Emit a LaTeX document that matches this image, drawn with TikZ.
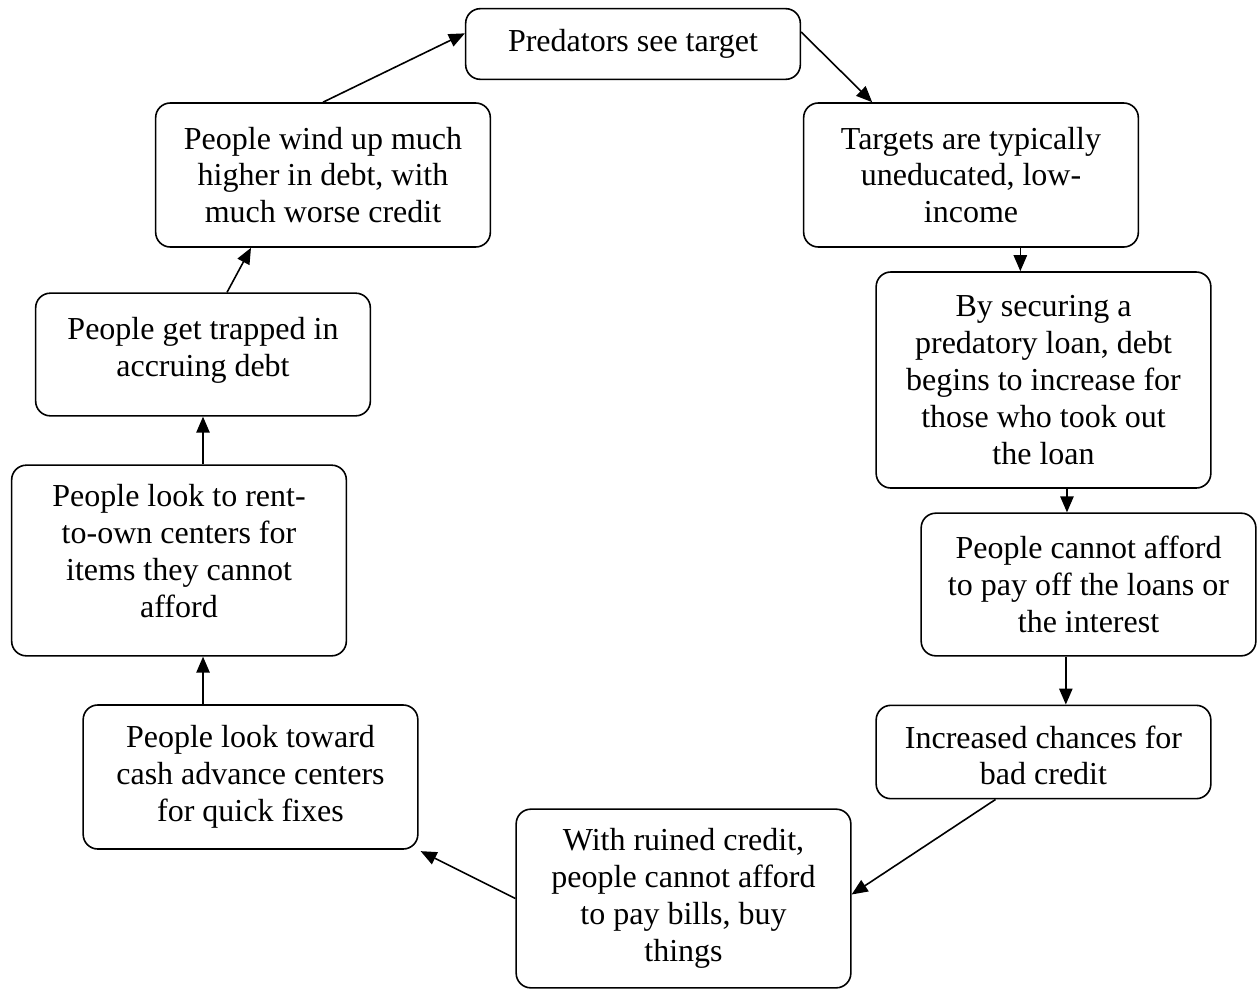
\documentclass[tikz,border=0pt]{standalone}
\usepackage{fontspec}
\setmainfont{Liberation Serif}
\usetikzlibrary{arrows.meta}

\begin{document}
\begin{tikzpicture}[x=0.75pt, y=-0.75pt,
  box/.style={draw, rounded corners=11pt, line width=1.2pt, minimum width=251pt,
    inner sep=0pt, align=center, font=\fontsize{24}{27.7}\selectfont},
  arr/.style={-{Triangle[length=12pt, width=10pt]}, line width=1.2pt}
]
\useasboundingbox (0,0) rectangle (1257,989);
\node[box, minimum height=53pt] (see) at (633,44) {Predators see target};
\node[box, minimum height=108pt] (targets) at (971,175) {Targets are typically\\uneducated, low-\\income};
\node[box, minimum height=162pt] (loan) at (1043.5,380) {By securing a\\predatory loan, debt\\begins to increase for\\those who took out\\the loan};
\node[box, minimum height=107pt] (afford) at (1088.5,584.5) {People cannot afford\\to pay off the loans or\\the interest};
\node[box, minimum height=70pt] (credit) at (1043.5,752) {\rule{0pt}{22pt}Increased chances for\\bad credit};
\node[box, minimum height=134pt] (ruined) at (683.5,898.5) {With ruined credit,\\people cannot afford\\to pay bills, buy\\things};
\node[box, minimum height=108pt] (cash) at (250.5,777) {People look toward\\cash advance centers\\for quick fixes};
\node[box, minimum height=143pt] (rent) at (179,560.5) {People look to rent-\\to-own centers for\\items they cannot\\afford\rule[-14pt]{0pt}{14pt}};
\node[box, minimum height=92pt] (trapped) at (203,354.5) {People get trapped in\\accruing debt\rule[-12pt]{0pt}{12pt}};
\node[box, minimum height=108pt] (windup) at (323,175) {People wind up much\\higher in debt, with\\much worse credit};
% cycle
\draw[arr] (windup.north) -- ([yshift=8pt]see.west);
\draw[arr] ([yshift=9pt]see.east) -- ([xshift=52pt]targets.north west);
\draw[arr] ([xshift=37pt]targets.south) -- ([xshift=37pt]targets.south |- loan.north);
\draw[arr] ([xshift=17.6pt]loan.south) -- ([xshift=17.6pt]loan.south |- afford.north);
\draw[arr] ([xshift=-17pt]afford.south) -- ([xshift=-17pt]afford.south |- credit.north);
\draw[arr] ([xshift=-36pt]credit.south) -- ([yshift=3pt]ruined.east);
\draw[arr] (ruined.west) -- ([xshift=1.5pt,yshift=-1pt]cash.south east);
\draw[arr] ([xshift=-35.6pt]cash.north) -- ([xshift=-35.6pt]cash.north |- rent.south);
\draw[arr] ([xshift=18pt]rent.north) -- (trapped.south);
\draw[arr] ([xshift=18pt]trapped.north) -- ([xshift=-54pt]windup.south);
\end{tikzpicture}
\end{document}
